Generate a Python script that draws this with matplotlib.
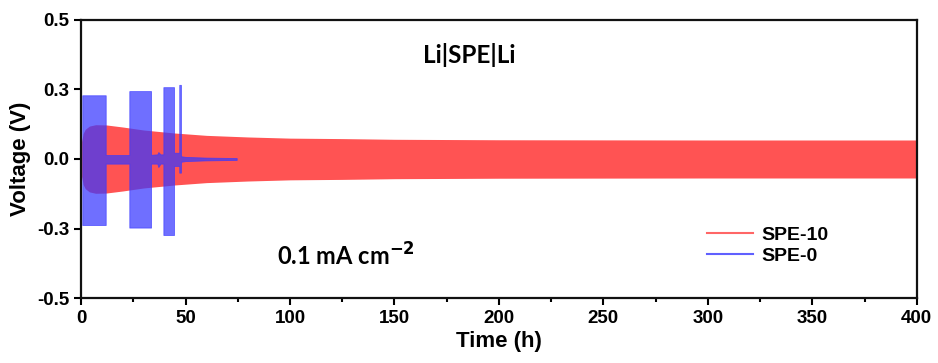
import numpy as np
import matplotlib
matplotlib.use("Agg")
from matplotlib import pyplot as plt
from matplotlib.lines import Line2D

# SPE-10 : envelope of the symmetric polarisation (V)
red_t = [0.3, 1, 2, 4, 7, 12, 20, 30, 45, 60, 80, 100, 125, 150, 200, 300, 400]
red_amp = [0.075, 0.11, 0.128, 0.142, 0.148, 0.147, 0.138, 0.125, 0.112, 0.102,
           0.095, 0.09, 0.088, 0.085, 0.083, 0.082, 0.082]

# SPE-0 : upper / lower envelope (V)
blue_t = [0.6, 11.8, 11.8, 23.1, 23.1, 33.5, 33.5, 36.5, 37.0, 38.0, 39.4, 39.4,
          44.5, 44.5, 47.0, 47.0, 47.8, 47.8, 50, 60, 74.5]
blue_hi = [0.275, 0.275, 0.017, 0.017, 0.293, 0.293, 0.018, 0.02, 0.03, 0.02, 0.02,
           0.31, 0.31, 0.027, 0.027, 0.32, 0.32, 0.012, 0.009, 0.006, 0.004]
blue_lo = [-0.285, -0.285, -0.02, -0.02, -0.296, -0.296, -0.02, -0.02, -0.035, -0.02,
           -0.02, -0.328, -0.328, -0.03, -0.03, -0.059, -0.059, -0.012, -0.009,
           -0.006, -0.004]

yticks = [-0.6, -0.3, 0.0, 0.3, 0.6]
yticklabels = ["-0.5", "-0.3", "0.0", "0.3", "0.5"]

red = "#ff4040"
blue = "#3838ff"

plt.rcParams["font.family"] = ["Liberation Sans", "DejaVu Sans"]
plt.rcParams["font.weight"] = "bold"

fig = plt.figure(figsize=(9.38, 3.63), dpi=100)
ax = fig.add_axes([0.0864, 0.179, 0.891, 0.766])

ra = np.array(red_amp)
ax.fill_between(red_t, ra, -ra, color=red, alpha=0.9, lw=0)
ax.fill_between(blue_t, blue_hi, blue_lo, color=blue, alpha=0.72, lw=0.6,
                edgecolor=blue)

ax.set_xlim(0, 400)
ax.set_ylim(-0.6, 0.6)
ax.set_xticks(np.arange(0, 401, 50))
ax.set_xticks(np.arange(0, 401, 25), minor=True)
ax.set_yticks(yticks)
ax.set_yticklabels(yticklabels)
ax.tick_params(axis="both", which="major", direction="out", length=5, width=1.5,
               labelsize=13.5)
ax.tick_params(axis="x", which="minor", direction="out", length=3, width=1.5)
for s in ax.spines.values():
    s.set_linewidth(1.6)
    s.set_color("#111111")

ax.set_xlabel("Time (h)", fontsize=16, fontweight="bold", labelpad=3)
ax.set_ylabel("Voltage (V)", fontsize=16, fontweight="bold", labelpad=4)

ax.text(186, 0.45, "Li|SPE|Li", fontsize=17.5, fontweight="bold", family="Lato",
        ha="center", va="center")
ax.text(127, -0.42, "0.1 mA cm$^{\\mathbf{-2}}$", fontsize=17, fontweight="bold",
        family="Lato", ha="center", va="center")

handles = [Line2D([], [], color=red, lw=1.5, alpha=0.8),
           Line2D([], [], color=blue, lw=1.5, alpha=0.8)]
ax.legend(handles, ["SPE-10", "SPE-0"], loc="lower right",
          bbox_to_anchor=(0.915, 0.055), frameon=False, fontsize=14,
          handlelength=2.4, handletextpad=0.4, labelspacing=0.2)

fig.savefig("out.png", dpi=100, facecolor="white")
